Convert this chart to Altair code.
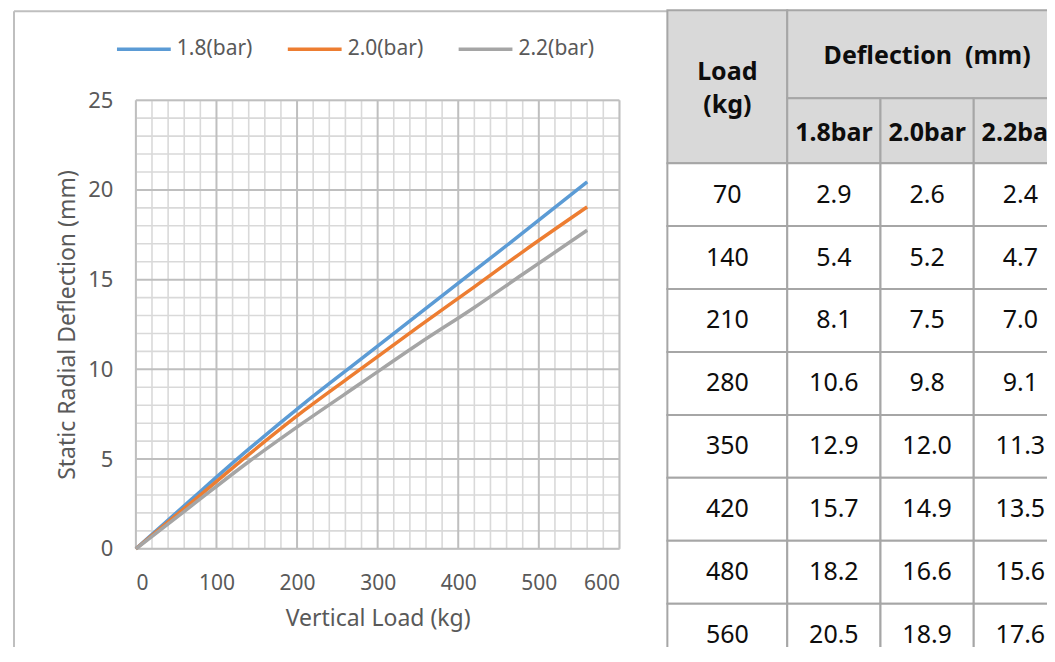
import altair as alt
import pandas as pd

# ---- values ----
# table values
loads = [70, 140, 210, 280, 350, 420, 480, 560]
d18 = [2.9, 5.4, 8.1, 10.6, 12.9, 15.7, 18.2, 20.5]
d20 = [2.6, 5.2, 7.5, 9.8, 12.0, 14.9, 16.6, 18.9]
d22 = [2.4, 4.7, 7.0, 9.1, 11.3, 13.5, 15.6, 17.6]
table_cols = ["1.8bar", "2.0bar", "2.2bar"]

curve_x = [0, 70, 140, 210, 280, 350, 420, 480, 560]
curve_18 = [0, 2.8, 5.55, 8.15, 10.6, 13.05, 15.5, 17.6, 20.45]
curve_20 = [0, 2.62, 5.25, 7.75, 10.05, 12.35, 14.6, 16.55, 19.05]
curve_22 = [0, 2.43, 4.85, 7.1, 9.25, 11.4, 13.45, 15.3, 17.75]
series_names = ["1.8(bar)", "2.0(bar)", "2.2(bar)"]
series_colors = ["#5b9bd5", "#ed7d31", "#a5a5a5"]

x_major = [0, 100, 200, 300, 400, 500, 600]
x_minor = [20, 40, 60, 80, 120, 140, 160, 180, 220, 240, 260, 280, 320, 340, 360, 380,
           420, 440, 460, 480, 520, 540, 560, 580]
y_major = [0, 5, 10, 15, 20, 25]
y_minor = [1, 2, 3, 4, 6, 7, 8, 9, 11, 12, 13, 14, 16, 17, 18, 19, 21, 22, 23, 24]

FONT = "Noto Sans"
AXIS_GRAY = "#595959"
MINOR = "#d9d9d9"
MAJOR = "#bfbfbf"

# ---- line chart ----
rows = []
for name, vals in zip(series_names, [curve_18, curve_20, curve_22]):
    for l, v in zip(curve_x, vals):
        rows.append({"series": name, "load": l, "defl": v})
line_df = pd.DataFrame(rows)

x_scale = alt.Scale(domain=[0, 600], nice=False, zero=False)
y_scale = alt.Scale(domain=[0, 25], nice=False, zero=False)

blank = alt.Data(values=[{}])
frame_left = alt.Chart(blank).mark_rule(color=MAJOR, strokeWidth=2).encode(
    x=alt.value(-122), y=alt.value(-89), y2=alt.value(567))
frame_top = alt.Chart(blank).mark_rule(color=MAJOR, strokeWidth=2).encode(
    x=alt.value(-122), x2=alt.value(532), y=alt.value(-89))

vminor = alt.Chart(pd.DataFrame({"v": x_minor})).mark_rule(color=MINOR, strokeWidth=1.6).encode(
    x=alt.X("v:Q", scale=x_scale, axis=None))
hminor = alt.Chart(pd.DataFrame({"v": y_minor})).mark_rule(color=MINOR, strokeWidth=1.6).encode(
    y=alt.Y("v:Q", scale=y_scale, axis=None))
vmajor = alt.Chart(pd.DataFrame({"v": x_major})).mark_rule(color=MAJOR, strokeWidth=2).encode(
    x=alt.X("v:Q", scale=x_scale, axis=None))
hmajor = alt.Chart(pd.DataFrame({"v": y_major})).mark_rule(color=MAJOR, strokeWidth=2).encode(
    y=alt.Y("v:Q", scale=y_scale, axis=None))

lines = alt.Chart(line_df).mark_line(strokeWidth=3.5, interpolate="monotone").encode(
    x=alt.X("load:Q", scale=x_scale,
            axis=alt.Axis(orient="bottom", values=x_major, grid=False, ticks=False, domain=False,
                          labelPadding=24, labelFontSize=21, labelColor=AXIS_GRAY, labelFont=FONT,
                          title="Vertical Load (kg)", titleFontSize=23, titleFont=FONT,
                          titleColor=AXIS_GRAY, titleFontWeight="normal", titlePadding=14)),
    y=alt.Y("defl:Q", scale=y_scale,
            axis=alt.Axis(orient="left", values=y_major, grid=False, ticks=False, domain=False,
                          labelPadding=23, labelFontSize=22, labelColor=AXIS_GRAY, labelFont=FONT,
                          title="Static Radial Deflection (mm)", titleFontSize=23,
                          titleFont=FONT, titleColor=AXIS_GRAY, titleFontWeight="normal",
                          titlePadding=8)),
    color=alt.Color("series:N", scale=alt.Scale(domain=series_names, range=series_colors),
                    legend=alt.Legend(orient="none", direction="horizontal", legendX=-21,
                                      legendY=-80, title=None, symbolType="stroke",
                                      symbolSize=2900, symbolStrokeWidth=3.5,
                                      labelFontSize=21, labelFont=FONT, labelColor=AXIS_GRAY,
                                      labelOffset=4, columnPadding=28)),
)

left = alt.layer(frame_left, frame_top, vminor, hminor, vmajor, hmajor, lines).resolve_axis(
    x="independent", y="independent").properties(width=484, height=449)

# ---- table ----
cells = []
cells.append({"c0": 0, "c1": 1, "r0": 0, "r1": 2, "label": "Load\n(kg)", "fill": "#d9d9d9", "w": "corner"})
cells.append({"c0": 1, "c1": 4, "r0": 0, "r1": 1, "label": "Deflection\u00a0 (mm)", "fill": "#d9d9d9", "w": "bold"})
for j, c in enumerate(table_cols):
    cells.append({"c0": 1 + j, "c1": 2 + j, "r0": 1, "r1": 2, "label": c, "fill": "#d9d9d9", "w": "bold"})
for i, l in enumerate(loads):
    r = 2 + i
    cells.append({"c0": 0, "c1": 1, "r0": r, "r1": r + 1, "label": str(l), "fill": "#ffffff", "w": "normal"})
    for j, vals in enumerate([d18, d20, d22]):
        cells.append({"c0": 1 + j, "c1": 2 + j, "r0": r, "r1": r + 1,
                      "label": f"{vals[i]:.1f}", "fill": "#ffffff", "w": "normal"})
cell_df = pd.DataFrame(cells)
cell_df["cm"] = (cell_df["c0"] + cell_df["c1"]) / 2
cell_df["rm"] = (cell_df["r0"] + cell_df["r1"]) / 2

tx = alt.Scale(domain=[0, 1, 4], range=[0, 120, 400], nice=False, zero=False)
ty = alt.Scale(domain=[0, 1, 2, 10], range=[-90, -2, 63, 567], nice=False, zero=False)

rects = alt.Chart(cell_df).mark_rect(stroke="#a6a6a6", strokeWidth=2).encode(
    x=alt.X("c0:Q", scale=tx, axis=None), x2="c1:Q",
    y=alt.Y("r0:Q", scale=ty, axis=None), y2="r1:Q",
    fill=alt.Fill("fill:N", scale=None),
)


def text_layer(kind, weight, dy):
    return alt.Chart(cell_df).transform_filter(alt.datum.w == kind).mark_text(
        fontSize=25, font=FONT, lineBreak="\n", lineHeight=33, fontWeight=weight, dy=dy,
        color="#0d0d0d", baseline="middle", align="center").encode(
        x=alt.X("cm:Q", scale=tx, axis=None),
        y=alt.Y("rm:Q", scale=ty, axis=None),
        text="label:N",
    )


table = alt.layer(rects, text_layer("corner", "bold", -26), text_layer("bold", "bold", 2),
                  text_layer("normal", "normal", 0)).properties(width=400, height=449)

chart = alt.hconcat(left, table, spacing=48, bounds="flush",
                    padding={"left": 4, "top": 0, "right": -22, "bottom": -22}
                    ).resolve_scale(color="independent").configure_view(stroke=None).configure(font=FONT)

chart.save("out.html", embed_options={"renderer": "svg", "actions": False})
